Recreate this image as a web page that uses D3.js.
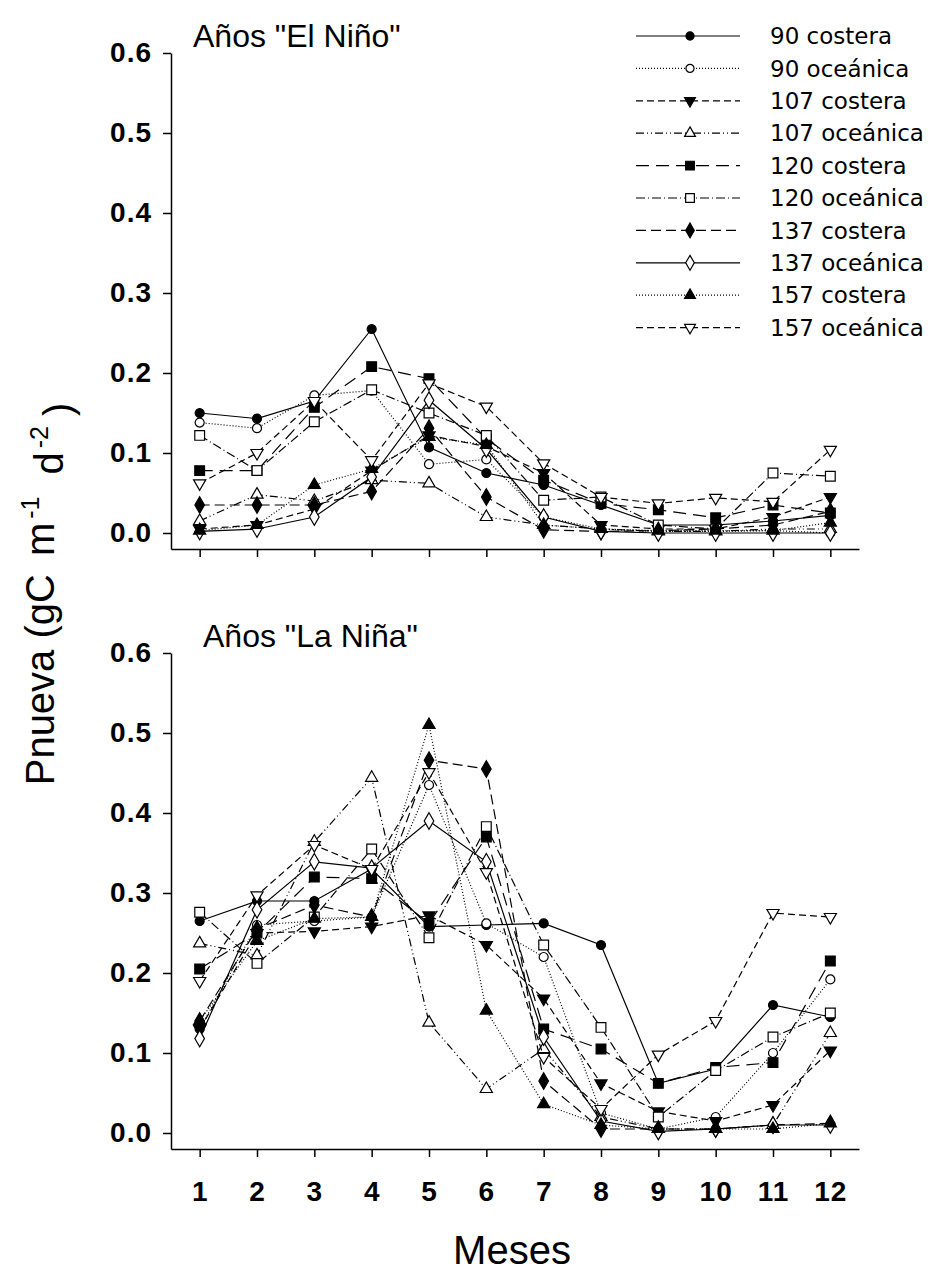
<!DOCTYPE html>
<html>
<head>
<meta charset="utf-8">
<script src="https://cdn.jsdelivr.net/npm/d3@7"></script>
<style>
  body { margin: 0; background: #fff; }
  svg { display: block; font-family: Arial, "Liberation Sans", sans-serif; }
</style>
</head>
<body>
<div id="chart"></div>
<script>
// months on the x axis
var months = [1, 2, 3, 4, 5, 6, 7, 8, 9, 10, 11, 12];
var yTicks = [0.0, 0.1, 0.2, 0.3, 0.4, 0.5, 0.6];

var seriesNames = ["90 costera", "90 oceánica", "107 costera", "107 oceánica", "120 costera",
                   "120 oceánica", "137 costera", "137 oceánica", "157 costera", "157 oceánica"];

// Años "El Niño" (same order as seriesNames)
var elNino = [
    [0.150, 0.143, 0.165, 0.255, 0.107, 0.075, 0.060, 0.035, 0.010, 0.010, 0.015, 0.022],
    [0.138, 0.131, 0.172, 0.178, 0.086, 0.092, 0.020, 0.005, 0.002, 0.002, 0.003, 0.000],
    [0.005, 0.010, 0.030, 0.078, 0.122, 0.108, 0.075, 0.010, 0.005, 0.005, 0.020, 0.045],
    [0.015, 0.048, 0.040, 0.066, 0.062, 0.020, 0.010, 0.005, 0.002, 0.002, 0.005, 0.005],
    [0.078, 0.078, 0.157, 0.208, 0.193, 0.118, 0.066, 0.037, 0.029, 0.019, 0.035, 0.025],
    [0.122, 0.078, 0.139, 0.179, 0.150, 0.122, 0.041, 0.045, 0.010, 0.005, 0.075, 0.071],
    [0.035, 0.035, 0.035, 0.052, 0.131, 0.045, 0.004, 0.002, 0.003, 0.005, 0.010, 0.027],
    [0.002, 0.005, 0.020, 0.070, 0.166, 0.105, 0.020, 0.002, 0.000, 0.000, 0.000, 0.000],
    [0.003, 0.010, 0.060, 0.080, 0.120, 0.110, 0.010, 0.005, 0.003, 0.003, 0.003, 0.013],
    [0.062, 0.100, 0.165, 0.091, 0.187, 0.158, 0.087, 0.045, 0.037, 0.044, 0.039, 0.104]
];

// Años "La Niña"
var laNina = [
    [0.265, 0.290, 0.290, 0.330, 0.258, 0.260, 0.262, 0.235, 0.062, 0.080, 0.160, 0.145],
    [0.130, 0.260, 0.265, 0.270, 0.435, 0.262, 0.220, 0.025, 0.005, 0.020, 0.100, 0.192],
    [0.130, 0.250, 0.252, 0.258, 0.272, 0.235, 0.168, 0.062, 0.027, 0.015, 0.035, 0.103],
    [0.237, 0.222, 0.364, 0.444, 0.138, 0.055, 0.105, 0.020, 0.005, 0.005, 0.010, 0.125],
    [0.205, 0.250, 0.320, 0.318, 0.262, 0.370, 0.130, 0.105, 0.062, 0.082, 0.088, 0.215],
    [0.276, 0.212, 0.270, 0.355, 0.244, 0.383, 0.235, 0.132, 0.020, 0.078, 0.120, 0.150],
    [0.140, 0.255, 0.285, 0.270, 0.466, 0.455, 0.065, 0.005, 0.005, 0.005, 0.010, 0.012],
    [0.118, 0.279, 0.339, 0.331, 0.390, 0.339, 0.120, 0.015, 0.002, 0.005, 0.010, 0.010],
    [0.140, 0.240, 0.268, 0.270, 0.510, 0.153, 0.036, 0.010, 0.005, 0.005, 0.005, 0.012],
    [0.190, 0.297, 0.360, 0.330, 0.451, 0.326, 0.095, 0.030, 0.098, 0.140, 0.275, 0.270]
];

// line + marker style per series
var styles = [
    { dash: null,              sym: d3.symbolCircle,   size: 64,  rot: 0,   fill: "#000" },
    { dash: "1,2",             sym: d3.symbolCircle,   size: 64,  rot: 0,   fill: "#fff" },
    { dash: "7,4",             sym: d3.symbolTriangle, size: 64,  rot: 180, fill: "#000" },
    { dash: "8,3,1,3,1,3",     sym: d3.symbolTriangle, size: 64,  rot: 0,   fill: "#fff" },
    { dash: "13,7",            sym: d3.symbolSquare,   size: 95,  rot: 0,   fill: "#000" },
    { dash: "9,3,1,3",         sym: d3.symbolSquare,   size: 95,  rot: 0,   fill: "#fff" },
    { dash: "10,5",            sym: d3.symbolDiamond,  size: 80,  rot: 0,   fill: "#000" },
    { dash: null,              sym: d3.symbolDiamond,  size: 80,  rot: 0,   fill: "#fff" },
    { dash: "1,2",             sym: d3.symbolTriangle, size: 64,  rot: 0,   fill: "#000" },
    { dash: "7,4",             sym: d3.symbolTriangle, size: 64,  rot: 180, fill: "#fff" }
];

var width = 934, height = 1274;

var svg = d3.select("#chart").append("svg")
    .attr("width", width)
    .attr("height", height);

var xscale = d3.scaleLinear()
    .domain([0.5, 12.5])
    .range([171, 859]);

var panels = [
    { title: 'Años "El Niño"', data: elNino, top: 53,  bottom: 549,  titleX: 193, titleY: 47,  labels: false },
    { title: 'Años "La Niña"', data: laNina, top: 653, bottom: 1149, titleX: 203, titleY: 647, labels: true }
];

panels.forEach(function (p) {

    var yscale = d3.scaleLinear()
        .domain([-0.02, 0.6])
        .range([p.bottom, p.top]);

    var g = svg.append("g").attr("class", "panel");

    var yAxis = d3.axisLeft(yscale)
        .tickValues(yTicks)
        .tickFormat(d3.format(".1f"))
        .tickSize(8)
        .tickSizeOuter(0)
        .tickPadding(11);

    var xAxis = d3.axisBottom(xscale)
        .tickValues(months)
        .tickSize(8)
        .tickSizeOuter(0)
        .tickPadding(24)
        .tickFormat(p.labels ? d3.format("d") : "");

    var gY = g.append("g")
        .attr("transform", "translate(171,0)")
        .call(yAxis);

    var gX = g.append("g")
        .attr("transform", "translate(0," + p.bottom + ")")
        .call(xAxis);

    g.selectAll(".tick text")
        .style("font-size", "28px")
        .style("font-weight", "bold")
        .style("letter-spacing", "1px")
        .attr("fill", "#000");

    g.selectAll(".domain, .tick line").attr("stroke", "#000").attr("stroke-width", 1.5);

    g.append("text")
        .attr("x", p.titleX)
        .attr("y", p.titleY)
        .style("font-size", "32px")
        .text(p.title);

    var line = d3.line()
        .x(function (d, i) { return xscale(months[i]); })
        .y(function (d) { return yscale(d); });

    p.data.forEach(function (vals, s) {
        var st = styles[s];
        var sg = g.append("g").attr("class", "series");

        sg.append("path")
            .datum(vals)
            .attr("d", line)
            .attr("fill", "none")
            .attr("stroke", "#000")
            .attr("stroke-width", 1.2)
            .attr("stroke-dasharray", st.dash);

        sg.selectAll(".pt")
            .data(vals)
            .enter()
            .append("path")
            .attr("class", "pt")
            .attr("d", d3.symbol().type(st.sym).size(st.size))
            .attr("transform", function (d, i) {
                return "translate(" + xscale(months[i]) + "," + yscale(d) + ") rotate(" + st.rot + ")";
            })
            .attr("fill", st.fill)
            .attr("stroke", "#000")
            .attr("stroke-width", 1.2);
    });
});

// legend
var legend = svg.append("g").attr("class", "legend");
var legY0 = 36, legStep = 32.4;

seriesNames.forEach(function (name, s) {
    var st = styles[s];
    var y = legY0 + s * legStep;
    legend.append("line")
        .attr("x1", 636).attr("x2", 740)
        .attr("y1", y).attr("y2", y)
        .attr("stroke", "#000")
        .attr("stroke-width", 1.2)
        .attr("stroke-dasharray", st.dash);
    legend.append("path")
        .attr("d", d3.symbol().type(st.sym).size(st.size * 0.8))
        .attr("transform", "translate(690," + y + ") rotate(" + st.rot + ")")
        .attr("fill", st.fill)
        .attr("stroke", "#000")
        .attr("stroke-width", 1.2);
    legend.append("text")
        .attr("x", 770)
        .attr("y", y)
        .attr("dy", "0.36em")
        .style("font-family", "'DejaVu Sans', sans-serif")
        .style("font-size", "23px")
        .text(name);
});

// axis titles
var yLab = svg.append("text")
    .attr("transform", "translate(54,594) rotate(-90)")
    .attr("text-anchor", "middle")
    .style("font-size", "40px");
yLab.append("tspan").text("Pnueva (gC");
yLab.append("tspan").attr("dx", 18).text("m");
yLab.append("tspan").attr("dx", 4).attr("dy", "-0.6em").style("font-size", "25px").text("-1");
yLab.append("tspan").attr("dx", 22).attr("dy", "0.6em").text("d");
yLab.append("tspan").attr("dx", 4).attr("dy", "-0.6em").style("font-size", "25px").text("-2");
yLab.append("tspan").attr("dx", 10).attr("dy", "0.6em").text(")");

svg.append("text")
    .attr("x", 512)
    .attr("y", 1264)
    .attr("text-anchor", "middle")
    .style("font-size", "40px")
    .text("Meses");
</script>
</body>
</html>
